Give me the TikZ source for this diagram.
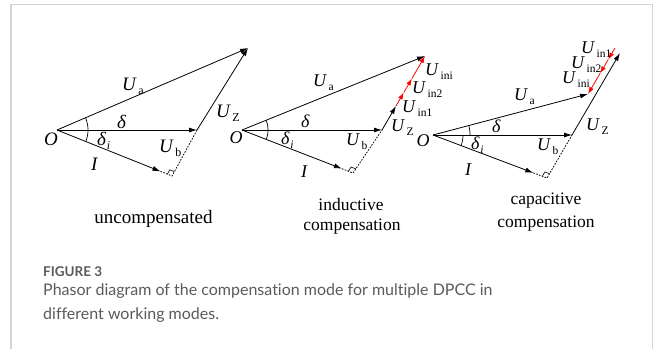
\documentclass[tikz,border=0pt]{standalone}
\usepackage{fontspec}
\setmainfont{Liberation Serif}
\newfontfamily\capfont[Ligatures=NoCommon]{Lato}
\usetikzlibrary{arrows.meta,calc}
\definecolor{framegray}{RGB}{212,212,212}
\definecolor{capgray}{RGB}{90,90,90}
\newcommand{\Ul}[2]{\textit{U}\hspace{1.5pt}\raisebox{-4.5pt}{\fontsize{#2}{#2}\selectfont #1}}
\newcommand{\dl}[1]{\textit{δ}\hspace{0.5pt}\raisebox{-4.5pt}{\fontsize{#1}{#1}\selectfont\textit{i}}}
\begin{document}
\begin{tikzpicture}[x=1pt,y=-1pt,
  vec/.style={line width=0.8pt,-{Latex[length=8pt,width=5pt]}},
  rvec/.style={red,line width=0.8pt,-{Latex[length=7pt,width=4.8pt]}},
  dotl/.style={line width=0.8pt,dash pattern=on 1.6pt off 1.4pt},
  rmark/.style={line width=0.6pt},
  arcl/.style={line width=0.7pt},
  lab/.style={inner sep=0pt,anchor=base west},
  lab1/.style={lab,font=\fontsize{19}{19}\selectfont},
  lab2/.style={lab,font=\fontsize{18}{18}\selectfont},
  cap1/.style={inner sep=0pt,anchor=base,font=\fontsize{19}{19}\selectfont},
  cap2/.style={inner sep=0pt,anchor=base,font=\fontsize{17.5}{17.5}\selectfont},
  olab/.style={inner sep=0pt,font=\itshape\fontsize{19}{19}\selectfont}]
\useasboundingbox (0,0) rectangle (654,349);
\draw[framegray,line width=1.3pt] (11,349) -- (11,4.5) -- (652.5,4.5) -- (652.5,349);

% ---------- diagram 1: uncompensated
\coordinate (O1) at (57,130);
\coordinate (B1) at (197,130);
\coordinate (A1) at (248,48);
\coordinate (F1) at (172,176);
\coordinate (I1) at ($(O1)!0.9!(F1)$);
\draw[vec] (O1) -- (A1);
\draw[vec] (O1) -- (B1);
\draw[vec] (B1) -- (A1);
\draw[vec] (O1) -- (I1);
\draw[dotl] (I1) -- (F1) -- (B1);
\coordinate (m1) at ($(F1)!5pt!(O1)$);
\coordinate (n1) at ($(F1)!5pt!(B1)$);
\draw[rmark] (m1) -- ($(m1)+(n1)-(F1)$) -- (n1);
\draw[arcl] plot[domain=-23.2:0,samples=20] ({57+31*cos(\x)},{130+31*sin(\x)});
\draw[arcl] plot[domain=0:21.8,samples=20] ({57+31*cos(\x)},{130+31*sin(\x)});
\node[olab] (o1) at (51,139) {O};
\node[lab1] (ua1) at (122,90) {\Ul{a}{12}};
\node[lab1] (d1) at (117,128) {\textit{δ}};
\node[lab1] (di1) at (97,145) {\dl{12}};
\node[lab1] (i1) at (91,170) {\textit{I}};
\node[lab1] (ub1) at (159,152) {\Ul{b}{12}};
\node[lab1] (uz1) at (216,117) {\Ul{Z}{12}};
\node[cap1] (t1) at (153.5,223) {uncompensated};

% ---------- diagram 2: inductive
\coordinate (O2) at (242,130);
\coordinate (B2) at (382,130);
\coordinate (A2) at (425,56);
\coordinate (Z2) at (396,106);
\coordinate (F2) at (353,173);
\coordinate (I2) at ($(O2)!0.9!(F2)$);
\coordinate (R2a) at ($(Z2)!0.27!(A2)$);
\coordinate (R2b) at ($(Z2)!0.55!(A2)$);
\draw[vec] (O2) -- (A2);
\draw[vec] (O2) -- (B2);
\draw[vec] (B2) -- (Z2);
\draw[vec] (O2) -- (I2);
\draw[dotl] (I2) -- (F2) -- (B2);
\coordinate (m2) at ($(F2)!5pt!(O2)$);
\coordinate (n2) at ($(F2)!5pt!(B2)$);
\draw[rmark] (m2) -- ($(m2)+(n2)-(F2)$) -- (n2);
\draw[rvec] (Z2) -- (R2a);
\draw[rvec] (R2a) -- (R2b);
\draw[rvec] (R2b) -- (A2);
\draw[arcl] plot[domain=-22:0,samples=20] ({242+26*cos(\x)},{130+26*sin(\x)});
\draw[arcl] plot[domain=0:21.2,samples=20] ({242+26*cos(\x)},{130+26*sin(\x)});
\node[olab,font=\itshape\fontsize{18}{18}\selectfont] (o2) at (236,138) {O};
\node[lab2] (ua2) at (313,86) {\Ul{a}{11.5}};
\node[lab2] (d2) at (301,127) {\textit{δ}};
\node[lab2] (di2) at (281,144) {\dl{11.5}};
\node[lab2] (i2) at (301,177) {\textit{I}};
\node[lab2] (ub2) at (346,145) {\Ul{b}{11.5}};
\node[lab2] (uz2) at (391,131) {\Ul{Z}{11.5}};
\node[lab2] (u21) at (402,112) {\Ul{in1}{11.5}};
\node[lab2] (u22) at (412,93) {\Ul{in2}{11.5}};
\node[lab2] (u2i) at (425,75) {\Ul{ini}{11.5}};
\node[cap2] (t2a) at (351,210) {inductive};
\node[cap2] (t2b) at (352,230) {compensation};

% ---------- diagram 3: capacitive
\coordinate (O3) at (433,135);
\coordinate (B3) at (572,135);
\coordinate (A3) at (588,94);
\coordinate (Z3) at (620,53);
\coordinate (F3) at (547,178);
\coordinate (I3) at ($(O3)!0.88!(F3)$);
\coordinate (R3t) at (615,48);
\coordinate (R3a) at ($(R3t)!0.25!(A3)$);
\coordinate (R3b) at ($(R3t)!0.55!(A3)$);
\draw[vec] (O3) -- (A3);
\draw[vec] (O3) -- (B3);
\draw[vec] (B3) -- (Z3);
\draw[vec] (O3) -- (I3);
\draw[dotl] (I3) -- (F3) -- (B3);
\coordinate (m3) at ($(F3)!5pt!(O3)$);
\coordinate (n3) at ($(F3)!5pt!(B3)$);
\draw[rmark] (m3) -- ($(m3)+(n3)-(F3)$) -- (n3);
\draw[rvec] (R3t) -- (R3a);
\draw[rvec] (R3a) -- (R3b);
\draw[rvec] (R3b) -- (A3);
\draw[arcl] plot[domain=-14.8:0,samples=20] ({433+37*cos(\x)},{135+37*sin(\x)});
\draw[arcl] plot[domain=0:20.7,samples=20] ({433+30*cos(\x)},{135+30*sin(\x)});
\node[olab,font=\itshape\fontsize{18}{18}\selectfont] (o3) at (423,141) {O};
\node[lab2] (ua3) at (514,100) {\Ul{a}{11.5}};
\node[lab2] (d3) at (492,132) {\textit{δ}};
\node[lab2] (di3) at (471,149) {\dl{11.5}};
\node[lab2] (i3) at (465,175) {\textit{I}};
\node[lab2] (ub3) at (537,150) {\Ul{b}{11.5}};
\node[lab2] (uz3) at (586,130) {\Ul{Z}{11.5}};
\node[lab2] (u31) at (581,53) {\Ul{in1}{11.5}};
\node[lab2] (u32) at (571,68) {\Ul{in2}{11.5}};
\node[lab2] (u3i) at (562,83) {\Ul{ini}{11.5}};
\node[cap2] (t3a) at (546,204) {capacitive};
\node[cap2] (t3b) at (546,227) {compensation};

% ---------- caption
\node[inner sep=0pt,anchor=base west,text=capgray,font=\capfont\bfseries\fontsize{13.5}{15}\selectfont] (fig) at (43,276) {FIGURE 3};
\node[inner sep=0pt,anchor=base west,text=capgray,font=\capfont\fontsize{16}{20}\selectfont] (c1) at (43,295.5) {Phasor diagram of the compensation mode for multiple DPCC in};
\node[inner sep=0pt,anchor=base west,text=capgray,font=\capfont\fontsize{16}{20}\selectfont] (c2) at (43,319.5) {different working modes.};
\end{tikzpicture}
\end{document}
